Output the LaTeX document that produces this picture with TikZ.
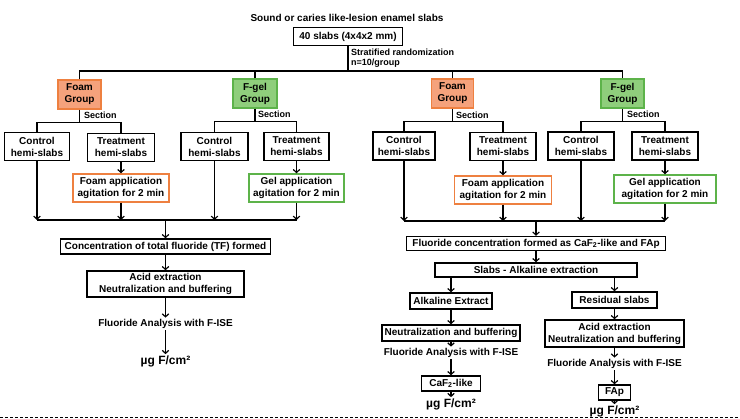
\documentclass[tikz,border=0pt]{standalone}
\usepackage{fontspec}
\setmainfont{Liberation Sans}
\usetikzlibrary{positioning,calc,arrows.meta}
\definecolor{FoamFill}{HTML}{F5A27C}
\definecolor{FoamLine}{HTML}{EE8040}
\definecolor{GelFill}{HTML}{8FCE7C}
\definecolor{GelLine}{HTML}{5DB34A}
\tikzset{
  box/.style={draw=black, line width=1.4pt, fill=white, align=center, inner sep=1pt,
    font=\bfseries\fontsize{10}{12}\selectfont},
  wh/.style 2 args={minimum width=#1pt, minimum height=#2pt},
  foambox/.style={box, draw=FoamLine, fill=FoamFill},
  gelbox/.style={box, draw=GelLine, fill=GelFill},
  foamapp/.style={box, draw=FoamLine},
  gelapp/.style={box, draw=GelLine},
  txt/.style={align=center, inner sep=1.5pt, font=\bfseries\fontsize{10}{12}\selectfont},
  small/.style={align=left, inner sep=0pt, font=\bfseries\fontsize{9}{10.5}\selectfont},
  unit/.style={inner sep=1pt, font=\bfseries\fontsize{12}{14}\selectfont},
  link/.style={line width=1.2pt},
  arr/.style={line width=1.2pt, -{Straight Barb[length=3pt,width=6.5pt]}},
}
\begin{document}
\begin{tikzpicture}[x=1pt, y=-1pt]
  \useasboundingbox (0,0) rectangle (740,419);

  \node[txt] (title) at (347,18) {Sound or caries like-lesion enamel slabs};
  \node[box, wh={109}{18}] (slabs) at (348,36.5) {40 slabs (4x4x2 mm)};
  \node[small, anchor=west] (strat) at (351,58) {Stratified randomization\\ n=10/group};
  \coordinate (topbar) at (348,71);

  \node[foambox, wh={43}{29}] (foamA) at (79.5,94.5) {Foam\\Group};
  \node[gelbox, wh={44}{29}] (fgelA) at (255,93.5) {F-gel\\Group};
  \node[foambox, wh={42}{29}] (foamB) at (452.5,93.5) {Foam\\Group};
  \node[gelbox, wh={43}{29}] (fgelB) at (622.5,93.5) {F-gel\\Group};

  \draw[link] (slabs.south) -- (topbar);
  \draw[link] (foamA.north) |- (topbar) -| (fgelB.north);
  \draw[link] (fgelA.north) -- (fgelA.north |- topbar);
  \draw[link] (foamB.north) -- (foamB.north |- topbar);

  \node[small, anchor=west] (secA) at (84,115) {Section};
  \node[small, anchor=west] (secB) at (258,114) {Section};
  \node[small, anchor=west] (secC) at (456,115) {Section};
  \node[small, anchor=west] (secD) at (627,114) {Section};

  \node[box, wh={65}{28}] (ctrlA) at (37,146.5) {Control\\hemi-slabs};
  \node[box, wh={67}{28}] (trtA) at (121,147.5) {Treatment\\hemi-slabs};
  \node[box, wh={67}{28}] (ctrlB) at (214.5,146.5) {Control\\hemi-slabs};
  \node[box, wh={65}{28}] (trtB) at (296.5,146.5) {Treatment\\hemi-slabs};
  \node[box, wh={62}{28}] (ctrlC) at (404,146) {Control\\hemi-slabs};
  \node[box, wh={66}{28}] (trtC) at (503,146.5) {Treatment\\hemi-slabs};
  \node[box, wh={66}{28}] (ctrlD) at (581,146) {Control\\hemi-slabs};
  \node[box, wh={66}{28}] (trtD) at (665,146) {Treatment\\hemi-slabs};

  \foreach \g/\c/\t in {foamA/ctrlA/trtA, fgelA/ctrlB/trtB, foamB/ctrlC/trtC, fgelB/ctrlD/trtD} {
    \coordinate (bar\g) at ($(\g.south)+(0,13)$);
    \draw[link] (\g.south) -- (bar\g);
    \draw[link] (\c.north) |- (bar\g) -| (\t.north);
  }

  \node[foamapp, wh={96}{28}] (foamappA) at (121,188) {Foam application\\agitation for 2 min};
  \node[gelapp, wh={95}{28}] (gelappB) at (296.5,188) {Gel application\\agitation for 2 min};
  \node[foamapp, wh={97}{28}] (foamappC) at (503,190) {Foam application\\agitation for 2 min};
  \node[gelapp, wh={102}{28}] (gelappD) at (665,189) {Gel application\\agitation for 2 min};
  \draw[arr] (trtA) -- (foamappA);
  \draw[arr] (trtB) -- (gelappB);
  \draw[arr] (trtC) -- (foamappC);
  \draw[arr] (trtD) -- (gelappD);

  % total fluoride
  \coordinate (joinA) at (165.5,220);
  \draw[link] (ctrlA.south |- joinA) -- (gelappB.south |- joinA);
  \foreach \n in {ctrlA,foamappA,ctrlB,gelappB}
    \draw[arr] (\n.south) -- (\n.south |- joinA);
  \node[box, wh={210}{15}] (tfA) at (165.5,246.5) {Concentration of total fluoride (TF) formed};
  \node[box, wh={157}{26}] (acidA) at (165.5,284) {Acid extraction\\Neutralization and buffering};
  \node[txt] (fiseA) at (165.5,324) {Fluoride Analysis with F-ISE};
  \node[unit] (ugA) at (165.5,361) {µg F/cm²};
  \draw[arr] (joinA) -- (tfA);
  \draw[arr] (tfA) -- (acidA);
  \draw[arr] (acidA) -- (fiseA);
  \draw[arr] (fiseA) -- (ugA);

  % CaF2-like and FAp
  \coordinate (joinC) at (536,221);
  \draw[link] (ctrlC.south |- joinC) -- (gelappD.south |- joinC);
  \foreach \n in {ctrlC,foamappC,ctrlD,gelappD}
    \draw[arr] (\n.south) -- (\n.south |- joinC);
  \node[box, wh={259}{14}] (fcC) at (536,243.5) {Fluoride concentration formed as CaF\textsubscript{2}-like and FAp};
  \node[box, wh={202}{14}] (alkC) at (536,270) {Slabs - Alkaline extraction};
  \draw[arr] (joinC) -- (fcC);
  \draw[arr] (fcC) -- (alkC);

  \node[box, wh={82}{16}] (extC) at (451,301) {Alkaline Extract};
  \node[box, wh={85}{16}] (resD) at (614.5,300) {Residual slabs};
  \node[box, wh={138}{16}] (neutC) at (451,333) {Neutralization and buffering};
  \node[box, wh={139}{27}] (acidD) at (614.5,333.5) {Acid extraction\\Neutralization and buffering};
  \node[txt] (fiseC) at (451,353) {Fluoride Analysis with F-ISE};
  \node[txt] (fiseD) at (614.5,364) {Fluoride Analysis with F-ISE};
  \node[box, wh={59}{15}] (cafC) at (451,383.5) {CaF\textsubscript{2}-like};
  \node[box, wh={32}{15}] (fapD) at (614.5,392.5) {FAp};
  \node[unit] (ugC) at (451,404) {µg F/cm²};
  \node[unit] (ugD) at (614.5,411) {µg F/cm²};

  \draw[arr] (alkC.south -| extC) -- (extC);
  \draw[arr] (alkC.south -| resD) -- (resD);
  \draw[arr] (extC) -- (neutC);
  \draw[arr] (resD) -- (acidD);
  \draw[arr] (neutC) -- (fiseC);
  \draw[arr] (acidD) -- (fiseD);
  \draw[arr] (fiseC) -- (cafC);
  \draw[arr] (fiseD) -- (fapD);
  \draw[arr] (cafC) -- (ugC);
  \draw[arr] (fapD) -- (ugD);

  \draw[line width=0.8pt, dash pattern=on 3pt off 2pt] (0,417.5) -- (740,417.5);
\end{tikzpicture}
\end{document}
